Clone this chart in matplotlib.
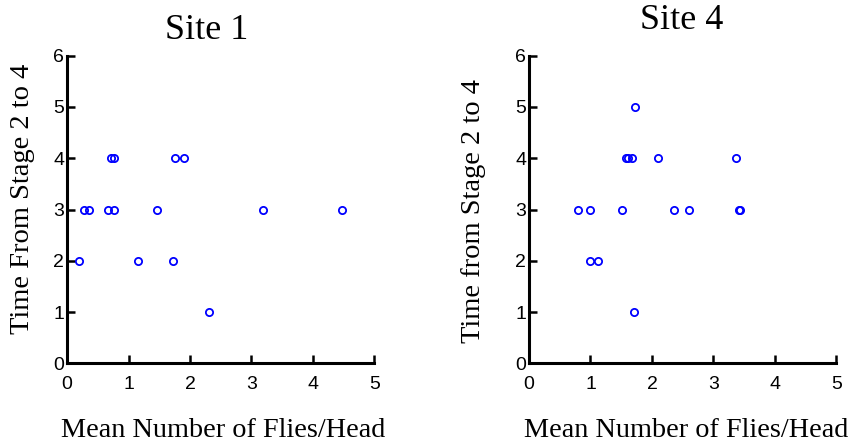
import matplotlib
matplotlib.use("Agg")
import matplotlib.pyplot as plt

# Site 1 data
site1_x = [0.20, 0.28, 0.35, 0.66, 0.77, 0.72, 0.76, 1.16, 1.46, 1.76, 1.90, 1.73, 2.31, 3.19, 4.47]
site1_y = [2, 3, 3, 3, 3, 4, 4, 2, 3, 4, 4, 2, 1, 3, 3]

# Site 4 data
site4_x = [0.80, 0.99, 0.99, 1.13, 1.52, 1.70, 1.72, 1.57, 1.61, 1.67, 2.10, 2.35, 2.60, 3.36, 3.41, 3.43]
site4_y = [3, 3, 2, 2, 3, 1, 5, 4, 4, 4, 4, 3, 3, 4, 3, 3]

xticks = [0, 1, 2, 3, 4, 5]
yticks = [0, 1, 2, 3, 4, 5, 6]

titles = ["Site 1", "Site 4"]
ylabels = ["Time From Stage 2 to 4", "Time from Stage 2 to 4"]
xlabel = "Mean Number of Flies/Head"

W, H = 853, 446
fig = plt.figure(figsize=(W / 100, H / 100), dpi=100)

def fx(px):
    return px / W

def fy(py):
    return 1 - py / H

serif = "Liberation Serif"
sans = "Liberation Sans"

panels = [
    dict(x0=67, x1=374.5, xs=site1_x, ys=site1_y, title=titles[0], tx=207, ty=39,
         ylab=ylabels[0], ylx=23, yly=199, xlx=223.5),
    dict(x0=529, x1=836.5, xs=site4_x, ys=site4_y, title=titles[1], tx=681.5, ty=29,
         ylab=ylabels[1], ylx=474, yly=211, xlx=686),
]

y_top, y_bot = 55.7, 363.3
for p in panels:
    ax = fig.add_axes([fx(p["x0"]), fy(y_bot), fx(p["x1"] - p["x0"]), (y_bot - y_top) / H])
    ax.plot(p["xs"], p["ys"], linestyle="none", marker="o", markersize=5.2,
            markerfacecolor="none", markeredgecolor="#0000ff", markeredgewidth=1.3,
            clip_on=False)
    ax.set_xlim(0, 5)
    ax.set_ylim(0, 6)
    ax.set_xticks(xticks)
    ax.set_yticks(yticks)
    ax.set_xticklabels([str(t) for t in xticks], fontfamily=sans, fontsize=14)
    ax.set_yticklabels([str(t) for t in yticks], fontfamily=sans, fontsize=14)
    for sp in ["top", "right"]:
        ax.spines[sp].set_visible(False)
    for sp in ["left", "bottom"]:
        ax.spines[sp].set_linewidth(2.2)
    ax.tick_params(direction="in", length=6, width=1.8)
    ax.tick_params(axis="x", pad=9)
    ax.tick_params(axis="y", pad=2)
    fig.text(fx(p["tx"]), fy(p["ty"]), p["title"], fontfamily=serif, fontsize=26,
             ha="center", va="baseline")
    fig.text(fx(p["ylx"]), fy(p["yly"]), p["ylab"], fontfamily=serif, fontsize=20.5,
             ha="center", va="center", rotation=90)
    fig.text(fx(p["xlx"]), fy(437), xlabel, fontfamily=serif, fontsize=20.3,
             ha="center", va="baseline")

fig.savefig("out.png", dpi=100)
